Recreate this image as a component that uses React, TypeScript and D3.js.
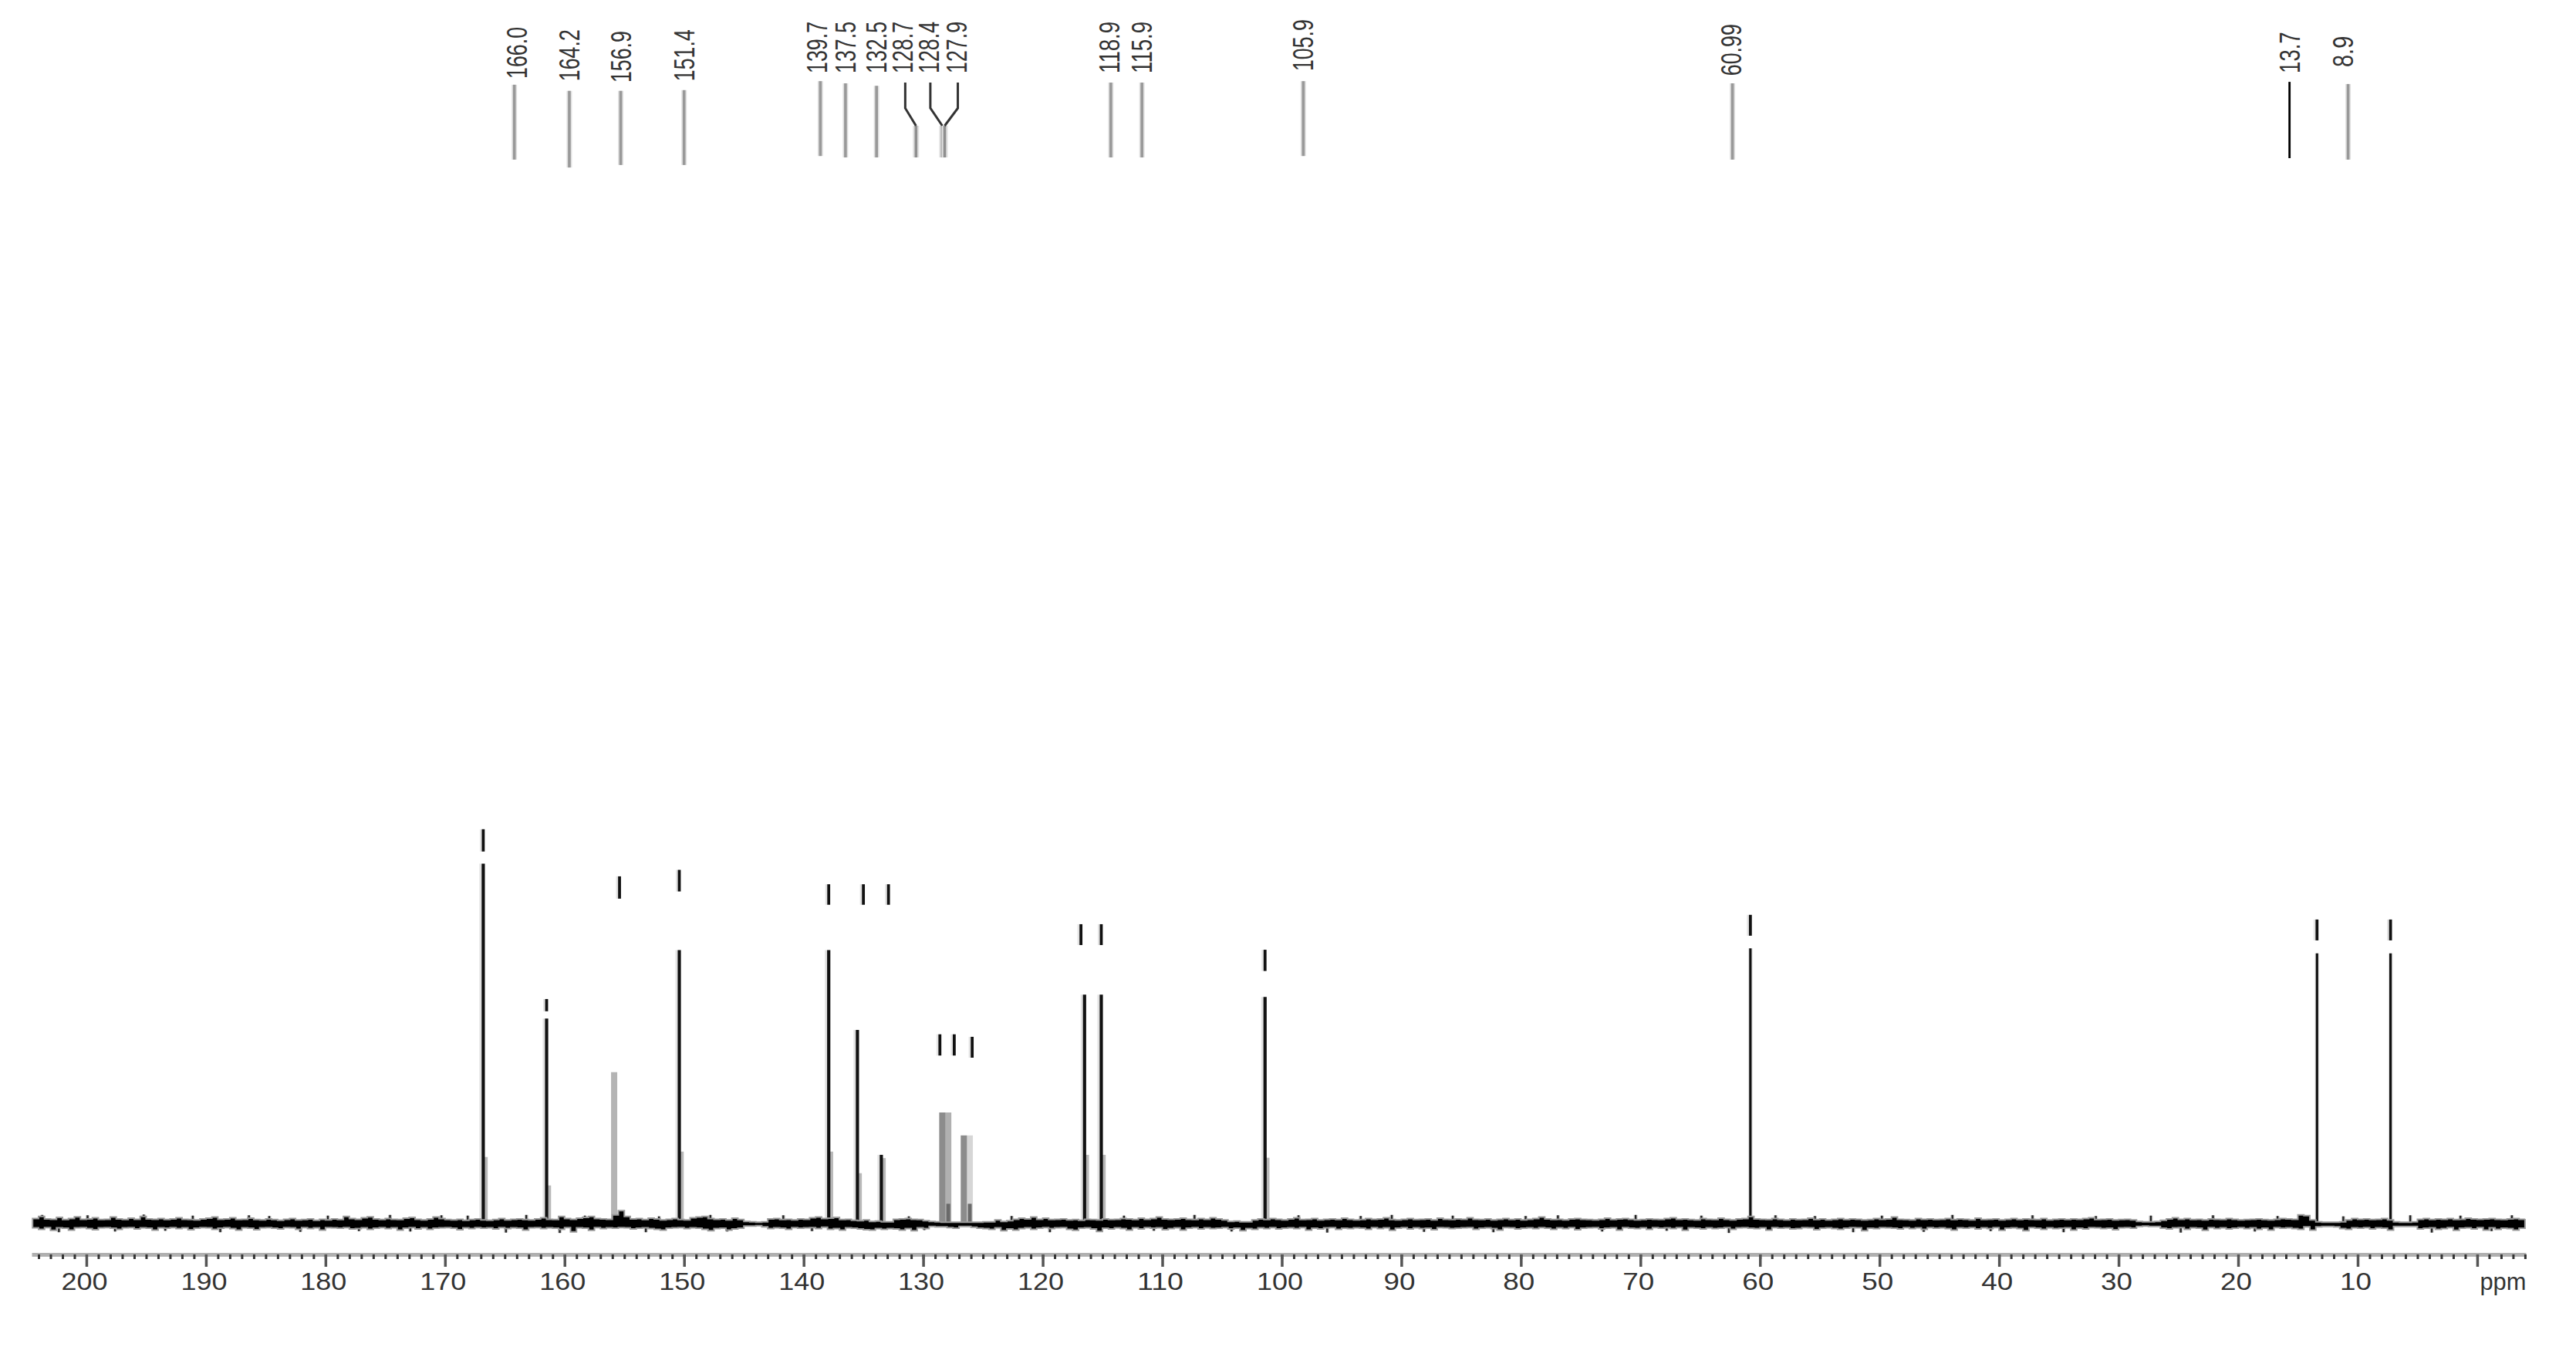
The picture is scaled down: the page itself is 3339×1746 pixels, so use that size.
import React, { useEffect, useRef } from 'react'
import * as d3 from 'd3'

const WIDTH = 3339
const HEIGHT = 1746

// main peaks (ppm, height relative to tallest, short grey shoulder next to it)
const peakPpm = [166.8, 161.5, 150.4, 137.9, 135.5, 133.5, 116.5, 115.1, 101.4]
const peakHeight = [100, 57, 76, 76, 53.8, 19.1, 63.6, 63.6, 63]
const shoulderHeight = [18.5, 10.6, 20, 20, 14, 18.2, 19.1, 19.1, 18.3]

// thin far-field peaks, no shoulder
const thinPpm = [60.8, 13.4, 7.25]
const thinHeight = [76.5, 75.1, 75.1]

// grey unresolved peaks
const greyPpm = [155.85, 128.4, 126.6]
const greyHeight = [42.1, 30.9, 24.5]
const paleGreyPpm = [127.9, 126.1]
const paleGreyHeight = [30.9, 24.5]
const footPpm = [127.9, 126.1]
const footHeight = [5.5, 5.5]

// integration style stubs above the peaks
const stubPpm = [166.8, 161.5, 155.4, 150.4, 137.9, 135, 132.9, 128.6, 127.4, 125.9, 116.8, 115.1, 101.4, 60.8, 13.4, 7.25]
const stubTop = [109.6, 62.4, 96.5, 98.3, 94.3, 94.3, 94.3, 52.6, 52.6, 51.9, 83.2, 83.2, 76.1, 85.8, 84.5, 84.5]
const stubBottom = [103.4, 59, 90.3, 92.3, 88.6, 88.6, 88.6, 46.7, 46.7, 46.1, 77.4, 77.4, 70.2, 80, 78.7, 78.7]

// peak list at the top of the spectrum
const labelText = ['166.0', '164.2', '156.9', '151.4', '139.7', '137.5', '132.5', '128.7', '128.4', '127.9', '118.9', '115.9', '105.9', '60.99', '13.7', '8.9']
const labelPpm = [164.0, 159.6, 155.3, 150.0, 138.9, 136.5, 133.9, 131.7, 129.5, 127.2, 114.4, 111.7, 98.2, 62.4, 15.65, 11.2]
const labelBase = [318.2, 317.5, 317.1, 317.5, 319.7, 319.7, 319.7, 319.7, 319.7, 319.7, 319.7, 319.7, 320.3, 319, 319.7, 321.4]

const leaderPpm = [164.2, 159.6, 155.3, 150.0, 138.6, 136.5, 133.9, 114.3, 111.7, 98.2, 62.3, 15.7, 10.8]
const leaderTop = [316.5, 314.8, 314.8, 315, 317.5, 316.9, 316.2, 317.1, 317.1, 317.5, 316.9, 317.3, 316.7]
const leaderBottom = [295.7, 293.5, 294.2, 294.2, 296.7, 296.3, 296.3, 296.3, 296.3, 296.7, 295.7, 296.1, 295.7]

// the three leaders that bend towards the crowded peaks
const bentFromPpm = [131.5, 129.4, 127.1]
const bentToPpm = [130.6, 128.4, 128.2]
const bentLevels = [317.1, 310, 305.1, 296.3]

// axis
const majorTicks = [200, 190, 180, 170, 160, 150, 140, 130, 120, 110, 100, 90, 80, 70, 60, 50, 40, 30, 20, 10, 0]
const minorTicks = d3.range(204, -5, -1)

// baseline noise envelope, one value per 0.5 ppm from 204.5 down, in tenths of a height unit
const noiseStart = 204.5
const noiseUp = [
  14, 20, 13, 12, 17, 11, 14, 19, 12, 13,
  16, 11, 12, 18, 13, 11, 15, 12, 20, 13,
  12, 14, 11, 13, 16, 12, 11, 10, 13, 15,
  18, 12, 13, 16, 11, 12, 15, 11, 10, 13,
  11, 9, 12, 14, 10, 11, 13, 9, 12, 10,
  13, 11, 20, 14, 12, 16, 19, 13, 11, 14,
  12, 11, 15, 17, 12, 10, 13, 18, 14, 11,
  10, 12, 9, 11, 13, 10, 9, 11, 14, 10,
  12, 13, 11, 10, 13, 16, 12, 11, 20, 14,
  12, 15, 17, 20, 14, 13, 12, 24, 36, 20,
  13, 14, 11, 15, 13, 10, 12, 14, 11, 10,
  16, 18, 20, 14, 12, 13, 10, 15, 11, 6,
  5, 4, 5, 13, 14, 11, 12, 10, 13, 12,
  16, 18, 14, 15, 17, 11, 12, 9, 8, 10,
  6, 7, 5, 5, 12, 13, 14, 12, 11, 8,
  6, 5, 4, 4, 4, 4, 4, 4, 4, 5,
  5, 10, 6, 8, 12, 15, 13, 18, 12, 15,
  11, 12, 13, 10, 11, 9, 12, 11, 10, 13,
  11, 12, 14, 13, 11, 15, 12, 14, 18, 13,
  12, 13, 15, 12, 11, 14, 12, 16, 13, 10,
  6, 7, 5, 5, 10, 13, 11, 14, 12, 10,
  13, 16, 11, 12, 14, 10, 12, 13, 11, 15,
  12, 10, 11, 14, 12, 13, 16, 11, 10, 12,
  14, 11, 12, 13, 10, 15, 12, 11, 13, 12,
  16, 12, 11, 13, 10, 12, 14, 11, 13, 10,
  12, 14, 18, 13, 11, 12, 10, 13, 14, 12,
  11, 10, 12, 15, 11, 13, 14, 12, 10, 11,
  13, 12, 11, 14, 16, 12, 13, 11, 10, 14,
  12, 11, 15, 12, 10, 13, 14, 20, 13, 12,
  11, 14, 12, 10, 13, 11, 12, 15, 11, 13,
  10, 12, 14, 11, 13, 12, 10, 11, 14, 12,
  13, 18, 12, 11, 10, 14, 12, 13, 11, 12,
  14, 11, 13, 12, 10, 15, 11, 12, 13, 10,
  12, 14, 11, 13, 12, 11, 14, 10, 12, 13,
  11, 13, 12, 14, 16, 11, 12, 13, 10, 11,
  12, 10, 6, 5, 5, 6, 9, 13, 16, 12,
  14, 11, 12, 10, 13, 12, 11, 14, 12, 10,
  11, 12, 13, 11, 10, 12, 14, 13, 12, 24,
  22, 10, 5, 4, 4, 4, 5, 10, 14, 12,
  13, 11, 12, 14, 10, 5, 4, 4, 5, 12,
  14, 11, 13, 12, 14, 11, 12, 15, 13, 12,
  13, 14, 12, 11, 13, 14, 12, 13,
]
const noiseDown = [
  12, 16, 11, 19, 12, 13, 18, 12, 11, 14,
  17, 12, 11, 13, 16, 12, 11, 15, 12, 13,
  18, 12, 13, 11, 14, 12, 17, 13, 11, 12,
  16, 13, 11, 14, 18, 12, 13, 17, 12, 11,
  13, 15, 11, 12, 16, 11, 14, 12, 18, 11,
  12, 13, 11, 15, 14, 12, 16, 13, 11, 14,
  12, 18, 13, 11, 15, 12, 16, 13, 12, 11,
  13, 17, 12, 14, 11, 13, 12, 15, 11, 14,
  12, 13, 18, 12, 11, 14, 12, 13, 16, 11,
  23, 12, 13, 19, 11, 14, 12, 13, 11, 12,
  15, 13, 12, 14, 16, 18, 13, 12, 11, 14,
  12, 13, 16, 20, 14, 13, 18, 15, 13, 7,
  7, 6, 9, 14, 12, 13, 16, 11, 13, 12,
  11, 14, 10, 16, 14, 18, 12, 13, 15, 17,
  18, 14, 16, 14, 15, 18, 14, 20, 12, 14,
  8, 9, 9, 11, 13, 8, 8, 10, 13, 14,
  16, 12, 20, 15, 18, 14, 12, 16, 13, 11,
  14, 12, 11, 16, 19, 13, 12, 15, 22, 13,
  15, 12, 14, 18, 12, 15, 11, 13, 12, 17,
  14, 12, 18, 13, 11, 15, 12, 14, 13, 11,
  15, 13, 20, 14, 16, 12, 14, 11, 15, 13,
  12, 14, 11, 18, 13, 15, 12, 11, 16, 13,
  14, 12, 13, 16, 11, 14, 12, 19, 13, 11,
  15, 12, 14, 13, 17, 11, 12, 14, 13, 12,
  11, 16, 13, 12, 14, 18, 11, 12, 15, 13,
  12, 14, 11, 13, 16, 12, 14, 11, 17, 13,
  12, 11, 15, 13, 12, 18, 11, 13, 14, 12,
  16, 11, 13, 12, 14, 11, 19, 12, 13, 15,
  12, 14, 13, 11, 16, 12, 11, 13, 14, 12,
  18, 11, 13, 12, 15, 14, 11, 12, 17, 13,
  12, 14, 16, 13, 11, 12, 20, 13, 14, 11,
  12, 13, 15, 11, 14, 12, 16, 11, 13, 12,
  14, 18, 12, 13, 11, 15, 12, 14, 11, 19,
  13, 12, 14, 20, 11, 13, 16, 12, 14, 13,
  12, 18, 13, 15, 11, 12, 14, 13, 17, 12,
  11, 13, 8, 7, 8, 8, 13, 15, 12, 11,
  16, 12, 13, 19, 11, 14, 12, 15, 13, 11,
  14, 12, 16, 13, 18, 11, 13, 12, 14, 16,
  9, 18, 9, 8, 8, 9, 14, 16, 12, 13,
  11, 15, 12, 13, 18, 8, 8, 8, 8, 15,
  13, 12, 16, 14, 11, 19, 13, 12, 15, 11,
  18, 12, 16, 13, 14, 18, 13, 15,
]

// single sharp noise spikes that stick out of the band, tenths of a height unit
const spikePpm = [
  203.7, 202.3, 199.9, 197.6, 195.2, 193.4, 191.1, 188.8, 186.4, 184.7, 182.1, 179.8, 177.2, 174.6,
  172.9, 170.3, 168.1, 164.9, 163.2, 160.4, 158.3, 153.2, 152.1, 147.8, 146.4, 141.7, 139.3,
  131.2, 129.9, 122.6, 119.4, 113.2, 110.7, 107.3, 104.2, 98.6, 96.2, 93.4, 90.8, 88.1, 85.7,
  82.3, 79.6, 76.9, 73.2, 70.4, 67.8, 64.9, 62.6, 58.7, 55.4, 52.2, 49.8, 46.3, 43.9, 40.7,
  37.2, 34.6, 31.9, 27.3, 24.8, 22.1, 18.6, 16.7, 11.2, 5.6, 3.8, 1.4, -1.2, -2.9,
]
const spikeValue = [
  24, -24, 23, -22, 25, -20, 22, -24, 23, 21, -23, 22, -21, 24,
  -22, 23, 22, -25, 24, -26, 22, -24, 20, 24, -22, 23, -21,
  20, -18, 21, -24, 22, -20, 24, -22, 23, -25, 21, 24, -23, 22,
  -24, 21, 23, -22, 24, -20, 22, -26, 23, 21, -24, 22, -23, 24, -21,
  23, -24, 21, 22, -25, 23, -22, 21, 20, 23, -25, 22, -21, 23,
]

export default function App() {
  const svgRef = useRef<SVGSVGElement>(null)

  useEffect(() => {
    if (!svgRef.current) return

    const svg = d3.select(svgRef.current)
    svg.selectAll('*').remove()

    // Scales
    const x = d3.scaleLinear().domain([204.58, -4.07]).range([41, 3274])
    const y = d3.scaleLinear().domain([0, 100]).range([1586, 1119.6])

    const vline = (
      g: d3.Selection<SVGGElement, unknown, null, undefined>,
      ppm: number, from: number, to: number,
      color: string, width: number, dx = 0
    ) => {
      g.append('line')
        .attr('x1', x(ppm) + dx)
        .attr('x2', x(ppm) + dx)
        .attr('y1', y(from))
        .attr('y2', y(to))
        .attr('stroke', color)
        .attr('stroke-width', width)
    }

    const peaks = svg.append('g')

    // Grey unresolved peaks go first, baseline paints over their feet
    paleGreyPpm.forEach((p, i) => vline(peaks, p, 0, paleGreyHeight[i], i === 0 ? '#b0b0b0' : '#d6d6d6', 8))
    greyPpm.forEach((p, i) => vline(peaks, p, 0, greyHeight[i], i === 0 ? '#b4b4b4' : '#8c8c8c', 8))
    footPpm.forEach((p, i) => vline(peaks, p, 0, footHeight[i], '#6a6a6a', 5))

    peakPpm.forEach((p, i) => {
      vline(peaks, p, 0, peakHeight[i], '#e2e2e2', 3, -3.5)
      vline(peaks, p, 0, shoulderHeight[i], '#b8b8b8', 4.5, 3.5)
      vline(peaks, p, 0, peakHeight[i], '#111', 4.2)
    })
    thinPpm.forEach((p, i) => {
      vline(peaks, p, 0, thinHeight[i], '#e8e8e8', 6)
      vline(peaks, p, 0, thinHeight[i], '#111', 3.2)
    })

    // Stubs
    stubPpm.forEach((p, i) => {
      vline(peaks, p, stubBottom[i], stubTop[i], '#e4e4e4', 3, -3)
      vline(peaks, p, stubBottom[i], stubTop[i], '#111', 3.8)
    })

    // Baseline noise
    const grid = noiseUp.map((_, i) => noiseStart - i * 0.5)
    const area = d3.area<number>()
      .x(d => x(d))
      .y0((_, i) => y(noiseUp[i] / 10))
      .y1((_, i) => y(-noiseDown[i] / 10))
      .curve(d3.curveStepAfter)

    spikePpm.forEach((p, i) => {
      vline(peaks, p, 0, spikeValue[i] / 10, '#c8c8c8', 5)
      vline(peaks, p, 0, spikeValue[i] / 10, '#222', 2.4)
    })

    svg.append('path')
      .datum(grid)
      .attr('d', area)
      .attr('fill', '#000')
      .attr('stroke', '#9a9a9a')
      .attr('stroke-width', 2)

    // Peak list leaders
    const top = svg.append('g')
    leaderPpm.forEach((p, i) => {
      const black = leaderPpm[i] === 15.7
      if (!black) vline(top, p, leaderBottom[i], leaderTop[i], '#e0e0e0', 7)
      vline(top, p, leaderBottom[i], leaderTop[i], black ? '#000' : '#999', black ? 2.8 : 3.6)
    })

    const bent = d3.line<[number, number]>().x(d => x(d[0])).y(d => y(d[1]))
    bentFromPpm.forEach((p, i) => {
      vline(top, bentToPpm[i], bentLevels[3], bentLevels[2], '#e0e0e0', 8)
      vline(top, bentToPpm[i], bentLevels[3], bentLevels[2], '#8f8f8f', 3.6)
      top.append('path')
        .attr('d', bent([
          [p, bentLevels[0]],
          [p, bentLevels[1]],
          [bentToPpm[i], bentLevels[2]],
        ]))
        .attr('fill', 'none')
        .attr('stroke', '#333')
        .attr('stroke-width', 3)
    })

    // Peak list text, squeezed along its reading direction
    labelText.forEach((t, i) => {
      top.append('text')
        .attr('transform', `translate(${x(labelPpm[i]) + 13},${y(labelBase[i])}) rotate(-90)`)
        .attr('font-family', '"Liberation Sans", sans-serif')
        .attr('font-size', 36)
        .attr('textLength', t.length * 13.4)
        .attr('lengthAdjust', 'spacingAndGlyphs')
        .attr('fill', '#333')
        .text(t)
    })

    // Axis
    const axisY = 1626
    const minorAxis = d3.axisBottom(x)
      .tickValues(minorTicks)
      .tickSize(6)
      .tickSizeOuter(0)
      .tickFormat(() => '')
    const majorAxis = d3.axisBottom(x)
      .tickValues(majorTicks)
      .tickSize(16)
      .tickSizeOuter(0)
      .tickFormat(d => (d === 0 ? 'ppm' : String(d)))

    const minorG = svg.append('g')
      .attr('transform', `translate(0,${axisY})`)
      .call(minorAxis)
    minorG.select('.domain').attr('stroke', '#b0b0b0').attr('stroke-width', 5)
    minorG.selectAll('.tick line').attr('stroke', '#333').attr('stroke-width', 3)

    const majorG = svg.append('g')
      .attr('transform', `translate(0,${axisY})`)
      .call(majorAxis)
    majorG.select('.domain').remove()
    majorG.selectAll('.tick line').attr('stroke', '#555').attr('stroke-width', 3.5)
    majorG.selectAll('.tick text')
      .attr('y', 46)
      .attr('dy', 0)
      .attr('x', (d: any) => (d === 0 ? 33 : -3))
      .attr('font-family', '"Liberation Sans", sans-serif')
      .attr('font-size', 31)
      .attr('textLength', (d: any) => (d === 0 || d >= 100 ? 60 : 41))
      .attr('lengthAdjust', 'spacingAndGlyphs')
      .attr('fill', '#333')
  }, [])

  return (
    <svg
      ref={svgRef}
      width={WIDTH}
      height={HEIGHT}
      style={{ position: 'absolute', left: 0, top: 0, background: '#fff', display: 'block' }}
    />
  )
}
